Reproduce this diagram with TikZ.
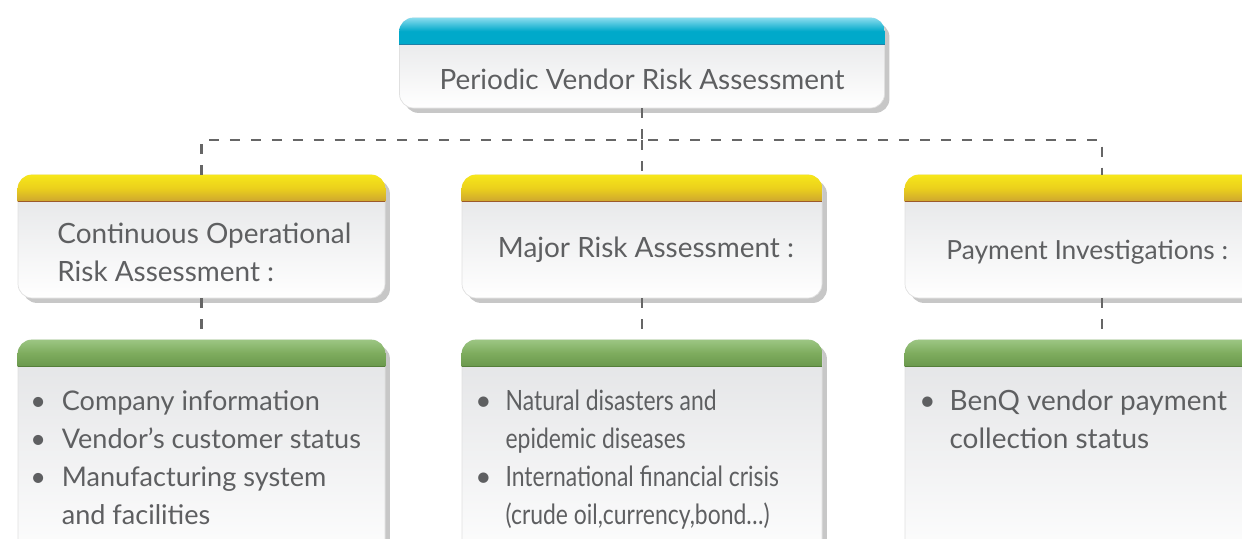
\documentclass[tikz,border=0pt]{standalone}
\usepackage{fontspec}
\setmainfont{Lato}
\newfontfamily\narrowfont[FakeStretch=0.82]{Lato}
\usetikzlibrary{shadows,positioning,calc}
\definecolor{txtgray}{HTML}{5E5F61}
\definecolor{bodytop}{HTML}{E2E3E5}
\definecolor{linkgray}{HTML}{666666}
\definecolor{blueA}{HTML}{8ADCEE}
\definecolor{blueB}{HTML}{00A9CA}
\definecolor{blueL}{HTML}{1E7FA6}
\definecolor{yelA}{HTML}{F7E71A}
\definecolor{yelM}{HTML}{EBD01C}
\definecolor{yelB}{HTML}{CDA530}
\definecolor{yelL}{HTML}{9C5A2A}
\definecolor{grnA}{HTML}{9CC683}
\definecolor{grnM}{HTML}{7EAC5E}
\definecolor{grnB}{HTML}{6A984C}
\definecolor{grnL}{HTML}{557F3A}

\tikzset{
  hdblue/.style={top color=blueA, bottom color=blueB, middle color=blueB},
  hdyel/.style={top color=yelA, bottom color=yelB, middle color=yelM},
  hdgrn/.style={top color=grnA, bottom color=grnB, middle color=grnM},
  card/.style={rectangle, rounded corners=8pt, draw=black!12, line width=.4pt,
    top color=bodytop, bottom color=white, inner sep=0pt,
    drop shadow={shadow xshift=2.8pt, shadow yshift=-2.8pt, fill=black!55, opacity=.4}},
  link/.style={draw=linkgray, line width=1.3pt, dash pattern=on 5.7pt off 6.2pt}
}

\begin{document}
\begin{tikzpicture}[every node/.style={font=\fontsize{15.9}{21.8}\selectfont, text=txtgray}]
  \useasboundingbox (0,0) rectangle (24.84,-10.76);
  \clip (0,0) rectangle (24.84,-10.76);

  % boxes
  \node[card, minimum width=9.7cm, minimum height=1.8cm] (top) at (12.84,-1.26) {};
  \node[card, minimum width=7.34cm, minimum height=2.46cm] (cor) at (4.03,-4.73) {};
  \node[card, minimum width=7.2cm, minimum height=2.46cm] (maj) at (12.84,-4.73) {};
  \node[card, minimum width=7.88cm, minimum height=2.46cm] (pay) at (22.04,-4.73) {};
  \node[card, minimum width=7.34cm, minimum height=4.6cm] (corL) at (4.03,-9.1) {};
  \node[card, minimum width=7.2cm, minimum height=4.6cm] (majL) at (12.84,-9.1) {};
  \node[card, minimum width=7.88cm, minimum height=4.6cm] (payL) at (22.04,-9.1) {};

  % coloured headers
  \foreach \n/\hd/\ln in {top/hdblue/blueL, cor/hdyel/yelL, maj/hdyel/yelL, pay/hdyel/yelL,
                          corL/hdgrn/grnL, majL/hdgrn/grnL, payL/hdgrn/grnL}{
    \begin{scope}
      \clip[rounded corners=8pt] (\n.north west) rectangle (\n.south east);
      \shade[\hd] (\n.north west) rectangle ([yshift=-0.54cm]\n.north east);
      \draw[\ln, line width=.8pt] ([yshift=-0.54cm]\n.north west) -- ([yshift=-0.54cm]\n.north east);
    \end{scope}
  }

  % dashed connectors
  \draw[link] (top.south) -- ++(0,-0.64) coordinate (bus);
  \draw[link] (cor.north) |- (bus) -| (pay.north);
  \draw[link] (bus) -- (maj.north);
  \draw[link] (cor.south) -- (corL.north);
  \draw[link] (maj.south) -- (majL.north);
  \draw[link] (pay.south) -- (payL.north);

  % texts
  \node (ttop) at (12.84,-1.58) {Periodic Vendor Risk Assessment};
  \node[anchor=west, align=left, inner sep=0pt] (tcor) at (1.14,-5.04) {Continuous Operational\\Risk Assessment :};
  \node (tmaj) at (12.92,-5.0) {Major Risk Assessment :};
  \node[anchor=west, inner sep=0pt, font=\fontsize{15}{21.8}\selectfont] (tpay) at (18.92,-5.04) {Payment Investigations :};

  \node[anchor=base west, inner sep=0pt, font=\fontsize{15.4}{21.8}\selectfont] (lcor) at (0.6,-8.2) {\begin{tabular}[t]{@{}l@{\hspace{9pt}}l@{}}
    \textbullet & Company information\\
    \textbullet & Vendor’s customer status\\
    \textbullet & Manufacturing system\\
                & and facilities
  \end{tabular}};
  \node[anchor=base west, inner sep=0pt] (lmaj) at (9.5,-8.2) {\begin{tabular}[t]{@{}l@{\hspace{8pt}}l@{}}
    \textbullet & \narrowfont Natural disasters and\\
                & \narrowfont epidemic diseases\\
    \textbullet & \narrowfont International financial crisis\\
                & \narrowfont (crude oil,currency,bond\dots)
  \end{tabular}};
  \node[anchor=base west, inner sep=0pt] (lpay) at (18.38,-8.2) {\begin{tabular}[t]{@{}l@{\hspace{8pt}}l@{}}
    \textbullet & BenQ vendor payment\\
                & collection status
  \end{tabular}};
\end{tikzpicture}
\end{document}
